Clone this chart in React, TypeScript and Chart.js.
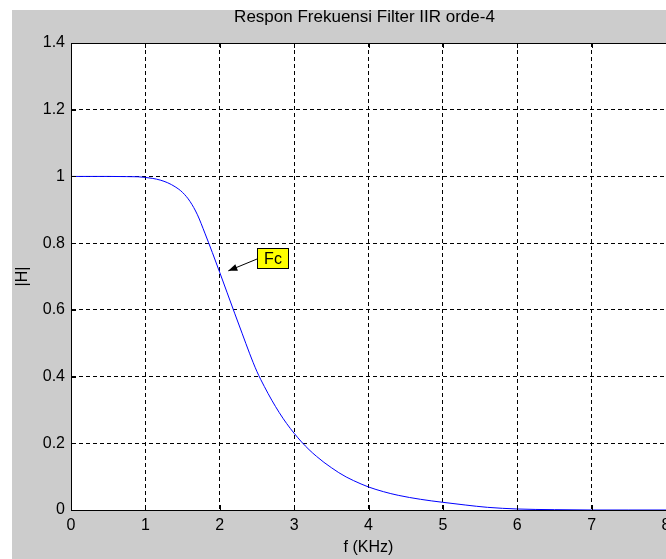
import React, { useEffect, useRef } from "react";
import { Chart, registerables } from "chart.js";

Chart.register(...registerables);

// ---- data ----
const freqKHz = [0, 0.25, 0.5, 0.75, 0.9, 1.0, 1.1, 1.2, 1.3, 1.4, 1.5, 1.6, 1.7, 1.8, 1.9, 2.0, 2.1, 2.2, 2.3, 2.4, 2.5, 2.6, 2.7, 2.8, 2.9, 3.0, 3.1, 3.2, 3.3, 3.4, 3.5, 3.6, 3.7, 3.8, 3.9, 4.0, 4.2, 4.4, 4.7, 5.0, 5.3, 5.6, 6.0, 6.5, 7.0, 7.5, 8.0];
const magnitudeH = [1.0, 1.0, 1.0, 0.9995, 0.999, 0.997, 0.994, 0.989, 0.981, 0.969, 0.952, 0.925, 0.885, 0.83, 0.772, 0.712, 0.651, 0.59, 0.53, 0.47, 0.415, 0.37, 0.329, 0.292, 0.259, 0.23, 0.204, 0.181, 0.161, 0.143, 0.127, 0.112, 0.099, 0.088, 0.078, 0.069, 0.055, 0.044, 0.032, 0.023, 0.015, 0.008, 0.003, 0.001, 0, 0, 0];
const xTickValues = [0, 1, 2, 3, 4, 5, 6, 7, 8];
const yTickValues = [0, 0.2, 0.4, 0.6, 0.8, 1, 1.2, 1.4];
const chartTitle = "Respon Frekuensi Filter IIR orde-4";
const xAxisTitle = "f (KHz)";
const yAxisTitle = "|H|";
const annotationText = "Fc";
const arrowTip = { x: 2.115, y: 0.717 };
const labelAnchor = { x: 2.505, y: 0.756 };

const FONT_FAMILY = "'Liberation Sans', Arial, Helvetica, sans-serif";
const W = 666;
const H = 559;

const framePlugin = {
  id: "matlabFrame",
  beforeDraw(chart: any) {
    const { ctx, chartArea } = chart;
    ctx.save();
    ctx.fillStyle = "#ffffff";
    ctx.fillRect(0, 0, W, H);
    ctx.fillStyle = "#cccccc";
    ctx.fillRect(12, 10, W - 12, H - 10);
    ctx.fillStyle = "#ffffff";
    ctx.fillRect(chartArea.left, chartArea.top, chartArea.right - chartArea.left, chartArea.bottom - chartArea.top);
    // title
    ctx.fillStyle = "#000";
    ctx.font = `17px ${FONT_FAMILY}`;
    ctx.textAlign = "center";
    ctx.textBaseline = "middle";
    ctx.fillText(chartTitle, (chartArea.left + chartArea.right) / 2 - 4, 17);
    ctx.restore();
  },
  afterDraw(chart: any) {
    const { ctx, chartArea, scales } = chart;
    const { left, right, top, bottom } = chartArea;
    ctx.save();
    ctx.strokeStyle = "#000";
    ctx.lineWidth = 1;
    ctx.setLineDash([]);
    // frame
    ctx.beginPath();
    ctx.moveTo(Math.round(left) + 0.5, Math.round(bottom) + 0.5);
    ctx.lineTo(Math.round(left) + 0.5, Math.round(top) + 0.5);
    ctx.lineTo(right + 2, Math.round(top) + 0.5);
    ctx.moveTo(Math.round(left) + 0.5, Math.round(bottom) + 0.5);
    ctx.lineTo(right + 2, Math.round(bottom) + 0.5);
    ctx.stroke();
    // inward tick marks
    const tl = 5;
    ctx.beginPath();
    xTickValues.forEach((v) => {
      const px = Math.round(scales.x.getPixelForValue(v)) + 0.5;
      ctx.moveTo(px, bottom);
      ctx.lineTo(px, bottom - tl);
      ctx.moveTo(px, top);
      ctx.lineTo(px, top + tl);
    });
    yTickValues.forEach((v) => {
      const py = Math.round(scales.y.getPixelForValue(v)) + 0.5;
      ctx.moveTo(left, py);
      ctx.lineTo(left + tl, py);
    });
    ctx.stroke();

    // annotation
    const tipX = scales.x.getPixelForValue(arrowTip.x);
    const tipY = scales.y.getPixelForValue(arrowTip.y);
    const boxLeft = Math.round(scales.x.getPixelForValue(labelAnchor.x)) + 0.5;
    const boxMid = scales.y.getPixelForValue(labelAnchor.y);
    ctx.font = `16px ${FONT_FAMILY}`;
    const tw = ctx.measureText(annotationText).width;
    const bw = Math.round(tw + 13);
    const bh = 20;
    const boxTop = Math.round(boxMid - bh / 2) + 0.5;
    // arrow line
    const sx = boxLeft;
    const sy = boxMid + 1;
    ctx.beginPath();
    ctx.moveTo(sx, sy);
    ctx.lineTo(tipX, tipY);
    ctx.stroke();
    // arrow head
    const ang = Math.atan2(tipY - sy, tipX - sx);
    const hl = 9;
    const hw = 3.5;
    const bx = tipX - hl * Math.cos(ang);
    const by = tipY - hl * Math.sin(ang);
    ctx.fillStyle = "#000";
    ctx.beginPath();
    ctx.moveTo(tipX, tipY);
    ctx.lineTo(bx + hw * Math.sin(ang), by - hw * Math.cos(ang));
    ctx.lineTo(bx - hw * Math.sin(ang), by + hw * Math.cos(ang));
    ctx.closePath();
    ctx.fill();
    // box
    ctx.fillStyle = "#ffff00";
    ctx.fillRect(boxLeft, boxTop, bw, bh);
    ctx.strokeRect(boxLeft, boxTop, bw, bh);
    ctx.fillStyle = "#000";
    ctx.textAlign = "center";
    ctx.textBaseline = "middle";
    ctx.fillText(annotationText, boxLeft + bw / 2, boxTop + bh / 2 + 1);
    ctx.restore();
  },
};

export default function App() {
  const canvasRef = useRef<HTMLCanvasElement | null>(null);

  useEffect(() => {
    const canvas = canvasRef.current;
    if (!canvas) return;
    const points = freqKHz.map((f, i) => ({ x: f, y: magnitudeH[i] }));
    const tickFont = { family: FONT_FAMILY, size: 16 };
    const chart = new Chart(canvas, {
      type: "line",
      data: {
        datasets: [
          {
            data: points,
            borderColor: "#0000ff",
            borderWidth: 1,
            pointRadius: 0,
            fill: false,
            cubicInterpolationMode: "monotone",
          },
        ],
      },
      options: {
        animation: false,
        responsive: false,
        devicePixelRatio: 1,
        layout: { padding: { top: 43, right: 0, left: 0, bottom: 0 } },
        plugins: {
          legend: { display: false },
          tooltip: { enabled: false },
          title: { display: false },
        },
        scales: {
          x: {
            type: "linear",
            min: 0,
            max: 8,
            afterBuildTicks: (s: any) => {
              s.ticks = xTickValues.map((v) => ({ value: v }));
            },
            afterFit: (s: any) => {
              s.height = H - 510;
              s.paddingLeft = 0;
              s.paddingRight = 0;
            },
            ticks: {
              color: "#000",
              font: tickFont,
              padding: 6,
              maxRotation: 0,
              autoSkip: false,
              callback: (v: any) => String(v),
            },
            grid: { color: "#000", lineWidth: 1, drawTicks: false },
            border: { display: true, color: "#000", width: 1, dash: [4, 3] },
            title: {
              display: true,
              text: xAxisTitle,
              color: "#000",
              font: tickFont,
              padding: { top: 0, bottom: 2 },
            },
          },
          y: {
            type: "linear",
            min: 0,
            max: 1.4,
            afterBuildTicks: (s: any) => {
              s.ticks = yTickValues.map((v) => ({ value: v }));
            },
            afterFit: (s: any) => {
              s.width = 71;
              s.paddingTop = 0;
              s.paddingBottom = 0;
            },
            ticks: {
              color: "#000",
              font: tickFont,
              padding: 6,
              autoSkip: false,
              callback: (v: any) => String(Math.round(v * 10) / 10),
            },
            grid: { color: "#000", lineWidth: 1, drawTicks: false },
            border: { display: true, color: "#000", width: 1, dash: [4, 3] },
            title: {
              display: true,
              text: yAxisTitle,
              color: "#000",
              font: tickFont,
              padding: { top: 13, bottom: 0 },
            },
          },
        },
      } as any,
      plugins: [framePlugin],
    });
    return () => chart.destroy();
  }, []);

  return (
    <div style={{ position: "absolute", left: 0, top: 0, width: W, height: H }}>
      <canvas ref={canvasRef} width={W} height={H} style={{ display: "block", width: W, height: H }} />
    </div>
  );
}
